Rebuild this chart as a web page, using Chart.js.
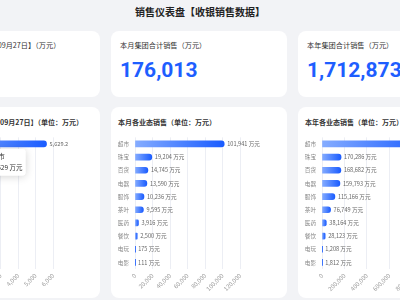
<!DOCTYPE html>
<html>
<head>
<meta charset="utf-8">
<script src="https://cdn.jsdelivr.net/npm/chart.js@4.4.0/dist/chart.umd.min.js"></script>
<style>
  html, body { margin: 0; padding: 0; }
  body {
    width: 400px; height: 300px; overflow: hidden; position: relative;
    background: #f2f3f6;
    font-family: "Noto Sans CJK SC", "Noto Sans", sans-serif;
  }
  .title {
    position: absolute; left: 0; top: 4px; width: 400px; text-align: center;
    font-size: 10px; font-weight: bold; color: #222; line-height: 16px;
  }
  .card {
    position: absolute; background: #fff; border-radius: 8px; width: 176px;
  }
  .top { top: 31px; height: 66px; }
  .bottom { top: 107px; height: 191px; }
  .label {
    position: absolute; left: 9px; top: 8px; white-space: nowrap;
    font-size: 7.2px; color: #333; line-height: 12px;
  }
  .num {
    position: absolute; left: 9px; top: 26px; white-space: nowrap;
    font-family: Roboto, sans-serif; font-weight: bold; font-size: 21px;
    color: #1e5eff; line-height: 26px;
  }
  .ctitle {
    position: absolute; left: 7px; top: 9px; white-space: nowrap;
    font-size: 7px; font-weight: bold; color: #333; line-height: 12px;
  }
  canvas { position: absolute; left: 0; top: 21px; }
</style>
</head>
<body>
<div class="title">销售仪表盘【收银销售数据】</div>

<div class="card top" style="left:-76px"><div class="label">今日集团合计销售【09月27日】（万元）</div><div class="num" id="todayTotal"></div></div>
<div class="card top" style="left:111px"><div class="label">本月集团合计销售（万元）</div><div class="num" id="monthTotal"></div></div>
<div class="card top" style="left:298px"><div class="label">本年集团合计销售（万元）</div><div class="num" id="yearTotal"></div></div>

<div class="card bottom" style="left:-76px"><div class="ctitle" style="left:20px">今日各业态销售【09月27日】（单位：万元）</div><canvas id="todayChart" width="176" height="168"></canvas></div>
<div class="card bottom" style="left:111px"><div class="ctitle">本月各业态销售（单位：万元）</div><canvas id="monthChart" width="176" height="168"></canvas></div>
<div class="card bottom" style="left:298px"><div class="ctitle">本年各业态销售（单位：万元）</div><canvas id="yearChart" width="176" height="168"></canvas></div>

<script>
const categories = ['超市', '珠宝', '百货', '电器', '服饰', '茶叶', '医药', '餐饮', '电玩', '电影'];

// today's values are only partly visible, the small ones are estimates
const todaySales = [5629.2, 420.5, 310.8, 260.3, 180.6, 150.2, 90.4, 60.7, 4.2, 2.9];
const monthSales = [101941, 19204, 14745, 13590, 10236, 9595, 3916, 2500, 175, 111];
const yearSales = [952890, 170286, 168682, 159793, 115166, 76749, 38164, 28123, 1208, 1812];

const todayAxis = { max: 6000, step: 1000 };
const monthAxis = { max: 120000, step: 20000 };
const yearAxis = { max: 1000000, step: 200000 };

const fmt = (v, d) => v.toLocaleString('en-US', { minimumFractionDigits: d, maximumFractionDigits: d });
const sum = arr => arr.reduce((a, b) => a + b, 0);

document.getElementById('todayTotal').textContent = fmt(sum(todaySales), 0);
document.getElementById('monthTotal').textContent = fmt(sum(monthSales), 0);
document.getElementById('yearTotal').textContent = fmt(sum(yearSales), 0);

Chart.defaults.font.family = '"Noto Sans CJK SC", sans-serif';
Chart.defaults.animation = false;

Chart.Tooltip.positioners.belowBar = function (items) {
    if (!items.length) return false;
    const el = items[0].element;
    return { x: el.x - 24, y: el.y };
};

const valueLabels = {
    id: 'valueLabels',
    afterDatasetsDraw(chart, args, opts) {
        const ctx = chart.ctx;
        const data = chart.data.datasets[0].data;
        ctx.save();
        ctx.font = '5.6px "Noto Sans CJK SC"';
        ctx.fillStyle = '#666';
        ctx.textBaseline = 'middle';
        chart.getDatasetMeta(0).data.forEach((bar, i) => {
            ctx.fillText(fmt(data[i], opts.digits) + opts.suffix, bar.x + 3, bar.y);
        });
        ctx.restore();
    }
};

const tooltipShadow = {
    id: 'tooltipShadow',
    beforeTooltipDraw(chart, args) {
        const t = args.tooltip;
        if (!t.opacity) return;
        const ctx = chart.ctx;
        ctx.save();
        ctx.shadowColor = 'rgba(0,0,0,0.18)';
        ctx.shadowBlur = 8;
        ctx.shadowOffsetY = 1;
        ctx.fillStyle = '#fff';
        ctx.beginPath();
        ctx.roundRect(t.x, t.y, t.width, t.height, 3);
        ctx.fill();
        ctx.restore();
    }
};

function barGradient(c) 
{
    const chart = c.chart;
    if (!chart.chartArea || c.type !== 'data') return '#1e5eff';
    const x = chart.scales.x;
    const x0 = x.getPixelForValue(0);
    const x1 = Math.max(x.getPixelForValue(c.raw), x0 + 0.5);
    const g = chart.ctx.createLinearGradient(x0, 0, x1, 0);
    g.addColorStop(0, '#85acff');
    g.addColorStop(1, '#1a5cff');
    return g;
}

function makeChart(id, values, axis, digits, suffix, withTip) 
{
    const chart = new Chart(document.getElementById(id), {
        type: 'bar',
        data: {
            labels: categories,
            datasets: [{
                data: values,
                backgroundColor: barGradient,
                barThickness: 6,
                borderRadius: 3
            }]
        },
        options: {
            indexAxis: 'y',
            responsive: false,
            events: [],
            layout: { padding: { left: 4, right: axis === yearAxis ? 40 : 47, top: 7, bottom: 0 } },
            scales: {
                x: {
                    min: 0,
                    max: axis.max,
                    border: { display: false },
                    grid: { color: '#eceef4', drawTicks: false },
                    ticks: {
                        stepSize: axis.step,
                        minRotation: 45,
                        maxRotation: 45,
                        padding: 3,
                        color: '#999',
                        font: { size: 6 },
                        callback: v => fmt(v, 0)
                    },
                    afterFit: s => { s.height = 27; }
                },
                y: {
                    border: { display: false },
                    grid: { display: false, drawTicks: false },
                    ticks: { color: '#888', font: { size: 5.6 }, padding: 6 },
                    afterFit: s => { s.width = 20; }
                }
            },
            plugins: {
                legend: { display: false },
                valueLabels: { digits: digits, suffix: suffix },
                tooltip: {
                    enabled: withTip,
                    position: 'belowBar',
                    xAlign: 'right',
                    yAlign: 'top',
                    backgroundColor: '#fff',
                    titleColor: '#333',
                    bodyColor: '#333',
                    titleFont: { size: 6.5, weight: 'normal' },
                    bodyFont: { size: 6.5 },
                    titleMarginBottom: 3,
                    padding: { top: 4, bottom: 4, left: 4, right: 3 },
                    caretSize: 0,
                    caretPadding: 5,
                    cornerRadius: 3,
                    displayColors: false,
                    callbacks: { label: c => fmt(Math.round(c.raw), 0) + ' 万元' }
                }
            }
        },
        plugins: [valueLabels, tooltipShadow]
    });
    chart.update();
    if (withTip) 
    {
        chart.tooltip.setActiveElements([{ datasetIndex: 0, index: 0 }], { x: 0, y: 0 });
        chart.update();
    }
    return chart;
}

makeChart('todayChart', todaySales, todayAxis, 1, '', true);
makeChart('monthChart', monthSales, monthAxis, 0, ' 万元', false);
makeChart('yearChart', yearSales, yearAxis, 0, ' 万元', false);
</script>
</body>
</html>
